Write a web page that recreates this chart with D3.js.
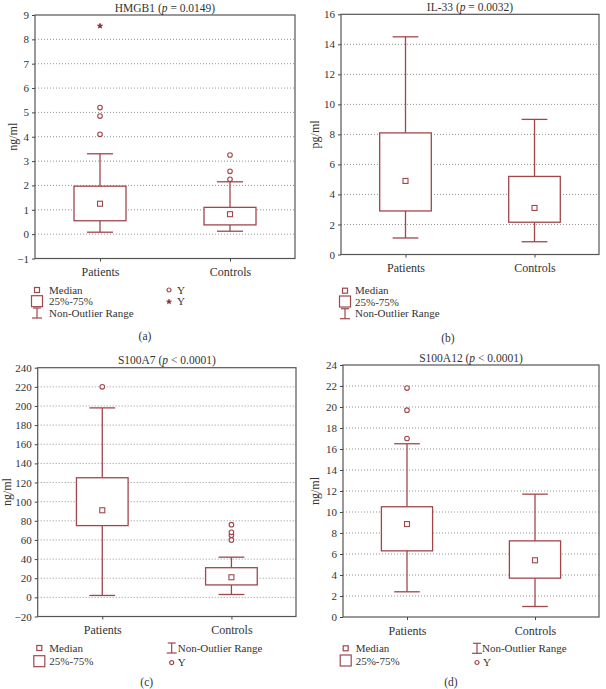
<!DOCTYPE html>
<html>
<head>
<meta charset="utf-8">
<script src="https://cdn.jsdelivr.net/npm/d3@7"></script>
<style>
  body { margin: 0; background: #fff; }
  svg text { font-family: "Liberation Serif", "DejaVu Serif", serif; fill: #333; }
</style>
</head>
<body>
<div id="chart"></div>
<script>
// categories shared by every panel
var categories = ["Patients", "Controls"];

// box stats per category: [whisker low, Q1, median, Q3, whisker high]
var hmgb1Stats = [[0.08, 0.55, 1.25, 1.97, 3.3], [0.12, 0.38, 0.82, 1.1, 2.15]];
var hmgb1Outliers = [[4.1, 4.85, 5.2], [2.25, 2.58, 3.25]];
var hmgb1Extremes = [[8.55], []];
var hmgb1Ticks = [-1, 0, 1, 2, 3, 4, 5, 6, 7, 8, 9];

var il33Stats = [[1.1, 2.9, 4.9, 8.1, 14.5], [0.85, 2.15, 3.1, 5.2, 9.0]];
var il33Outliers = [[], []];
var il33Ticks = [0, 2, 4, 6, 8, 10, 12, 14, 16];

var s100a7Stats = [[2, 75, 91, 125, 198], [3, 13, 21, 31, 42]];
var s100a7Outliers = [[220], [60, 65, 68, 76]];
var s100a7Ticks = [-20, 0, 20, 40, 60, 80, 100, 120, 140, 160, 180, 200, 220, 240];

var s100a12Stats = [[2.4, 6.3, 8.85, 10.5, 16.5], [1.0, 3.7, 5.4, 7.25, 11.7]];
var s100a12Outliers = [[17, 19.7, 21.8], []];
var s100a12Ticks = [0, 2, 4, 6, 8, 10, 12, 14, 16, 18, 20, 22, 24];

var boxColor = "#a0474c";

var svg = d3.select("#chart").append("svg")
  .attr("width", 606).attr("height", 689);

function panel(o) {
  var g = svg.append("g");
  var y = d3.scaleLinear().domain(d3.extent(o.ticks)).range([o.bottom, o.top]);
  var x = d3.scalePoint().domain(categories).range([o.left, o.right]).padding(0.5);
  var bw = (o.right - o.left) * 0.2;

  // grid
  g.selectAll(".grid").data(o.ticks.slice(1, -1)).enter().append("line")
    .attr("x1", o.left).attr("x2", o.right)
    .attr("y1", function(d) { return y(d); }).attr("y2", function(d) { return y(d); })
    .attr("stroke", "#777").attr("stroke-width", 0.8).attr("stroke-dasharray", "1,2");

  // axes
  var ya = g.append("g").attr("transform", "translate(" + o.left + ",0)")
    .call(d3.axisLeft(y).tickValues(o.ticks).tickSize(3).tickFormat(function(d) { return d < 0 ? "\u2212" + (-d) : d; }));
  ya.select(".domain").remove();
  ya.selectAll("line").attr("stroke", "#444");
  ya.selectAll("text").attr("font-size", 11).attr("fill", "#333");

  var xa = g.append("g").attr("transform", "translate(0," + o.bottom + ")")
    .call(d3.axisBottom(x).tickSize(3).tickPadding(6));
  xa.select(".domain").remove();
  xa.selectAll("line").attr("stroke", "#444");
  xa.selectAll("text").attr("font-size", 12).attr("fill", "#333");

  g.append("rect").attr("x", o.left).attr("y", o.top)
    .attr("width", o.right - o.left).attr("height", o.bottom - o.top)
    .attr("fill", "none").attr("stroke", "#555").attr("stroke-width", 1.2);

  // boxes
  o.stats.forEach(function(s, i) {
    var cx = x(categories[i]);
    var b = g.append("g").attr("stroke", boxColor).attr("stroke-width", 1.3).attr("fill", "none");
    b.append("line").attr("x1", cx).attr("x2", cx).attr("y1", y(s[0])).attr("y2", y(s[1]));
    b.append("line").attr("x1", cx).attr("x2", cx).attr("y1", y(s[3])).attr("y2", y(s[4]));
    b.append("line").attr("x1", cx - bw / 4).attr("x2", cx + bw / 4).attr("y1", y(s[0])).attr("y2", y(s[0]));
    b.append("line").attr("x1", cx - bw / 4).attr("x2", cx + bw / 4).attr("y1", y(s[4])).attr("y2", y(s[4]));
    b.append("rect").attr("x", cx - bw / 2).attr("width", bw)
      .attr("y", y(s[3])).attr("height", y(s[1]) - y(s[3])).attr("fill", "#fff");
    b.append("rect").attr("x", cx - 2.5).attr("y", y(s[2]) - 2.5).attr("width", 5).attr("height", 5)
      .attr("stroke-width", 1.1);

    (o.outliers[i] || []).forEach(function(v) {
      b.append("circle").attr("cx", cx).attr("cy", y(v)).attr("r", 2.3).attr("stroke-width", 1.1).attr("fill", "#fff");
    });
    ((o.extremes || [])[i] || []).forEach(function(v) {
      b.append("path").attr("transform", "translate(" + cx + "," + y(v) + ")")
        .attr("d", d3.symbol(d3.symbolStar, 8)).attr("fill", "#8a2a35").attr("stroke", "#8a2a35").attr("stroke-width", 0.8);
    });
  });

  // title
  g.append("text").attr("x", (o.left + o.right) / 2).attr("y", o.top - 3.5)
    .attr("text-anchor", "middle").attr("font-size", 11.5)
    .html(o.name + " (<tspan font-style='italic'>p</tspan> " + o.p + ")");

  // y label
  g.append("text").attr("transform", "translate(" + o.ylx + "," + ((o.top + o.bottom) / 2) + ") rotate(-90)")
    .attr("text-anchor", "middle").attr("font-size", 12).text(o.unit);

  // legend
  o.legend.forEach(function(it) {
    var lg = g.append("g").attr("transform", "translate(" + it.x + "," + it.y + ")");
    var sym = lg.append("g").attr("stroke", boxColor).attr("fill", "none").attr("stroke-width", 1.2);
    if (it.k === "median") sym.append("rect").attr("x", -2.5).attr("y", -2.5).attr("width", 5).attr("height", 5);
    if (it.k === "box") sym.append("rect").attr("x", -5.5).attr("y", -6).attr("width", 11).attr("height", 11);
    if (it.k === "range") {
      sym.append("line").attr("x1", -4).attr("x2", 4).attr("y1", -5).attr("y2", -5);
      sym.append("line").attr("x1", 0).attr("x2", 0).attr("y1", -5).attr("y2", 5);
      sym.append("line").attr("x1", -5).attr("x2", 5).attr("y1", 5).attr("y2", 5);
    }
    if (it.k === "out") sym.append("circle").attr("r", 2).attr("fill", "#fff");
    if (it.k === "ext") sym.append("path").attr("d", d3.symbol(d3.symbolStar, 8)).attr("fill", "#8a2a35").attr("stroke", "#8a2a35").attr("stroke-width", 0.6);
    lg.append("text").attr("x", it.tx).attr("y", 3.5).attr("font-size", 11).text(it.t);
  });

  g.append("text").attr("x", o.capx).attr("y", o.capy).attr("text-anchor", "middle")
    .attr("font-size", 11.5).text(o.cap);
}

panel({
  name: "HMGB1", p: "= 0.0149", unit: "ng/ml", stats: hmgb1Stats, outliers: hmgb1Outliers,
  extremes: hmgb1Extremes, ticks: hmgb1Ticks,
  left: 35, right: 295, top: 15, bottom: 258.5, ylx: 17,
  legend: [
    { k: "median", t: "Median", x: 37, y: 290, tx: 12 },
    { k: "box", t: "25%-75%", x: 37, y: 301.7, tx: 12 },
    { k: "range", t: "Non-Outlier Range", x: 37, y: 313, tx: 12 },
    { k: "out", t: "Y", x: 169, y: 290, tx: 8 },
    { k: "ext", t: "Y", x: 169, y: 301.7, tx: 8 }
  ],
  cap: "(a)", capx: 145, capy: 340
});

panel({
  name: "IL-33", p: "= 0.0032", unit: "pg/ml", stats: il33Stats, outliers: il33Outliers,
  ticks: il33Ticks,
  left: 341, right: 599, top: 14.3, bottom: 254.5, ylx: 319,
  legend: [
    { k: "median", t: "Median", x: 345, y: 290.7, tx: 10 },
    { k: "box", t: "25%-75%", x: 345, y: 302, tx: 10 },
    { k: "range", t: "Non-Outlier Range", x: 345, y: 313.7, tx: 10 }
  ],
  cap: "(b)", capx: 448, capy: 341.5
});

panel({
  name: "S100A7", p: "< 0.0001", unit: "ng/ml", stats: s100a7Stats, outliers: s100a7Outliers,
  ticks: s100a7Ticks,
  left: 37.7, right: 296, top: 367.7, bottom: 616.5, ylx: 11,
  legend: [
    { k: "median", t: "Median", x: 39.3, y: 648, tx: 10 },
    { k: "box", t: "25%-75%", x: 39.3, y: 661.7, tx: 10 },
    { k: "range", t: "Non-Outlier Range", x: 171.7, y: 648, tx: 6 },
    { k: "out", t: "Y", x: 171.7, y: 662.7, tx: 6 }
  ],
  cap: "(c)", capx: 146.7, capy: 685.5
});

panel({
  name: "S100A12", p: "< 0.0001", unit: "ng/ml", stats: s100a12Stats, outliers: s100a12Outliers,
  ticks: s100a12Ticks,
  left: 343, right: 599, top: 365, bottom: 617, ylx: 319,
  legend: [
    { k: "median", t: "Median", x: 345.7, y: 648.3, tx: 10 },
    { k: "box", t: "25%-75%", x: 345.7, y: 661, tx: 10 },
    { k: "range", t: "Non-Outlier Range", x: 477, y: 648.3, tx: 5 },
    { k: "out", t: "Y", x: 477, y: 662.5, tx: 6 }
  ],
  cap: "(d)", capx: 451, capy: 685.5
});
</script>
</body>
</html>
